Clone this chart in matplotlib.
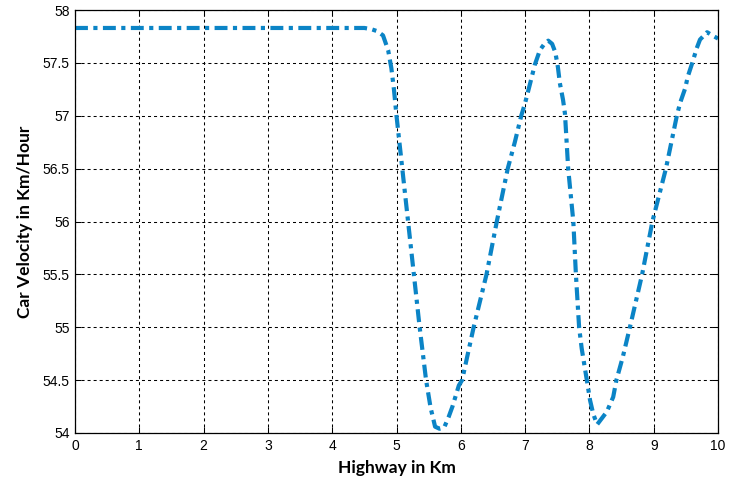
import matplotlib
matplotlib.use("Agg")
import matplotlib.pyplot as plt

# Data
highway_km = [0.0, 4.0, 4.5, 4.6, 4.7, 4.79, 4.87, 4.92, 4.96, 5.0, 5.09, 5.18, 5.27,
              5.36, 5.46, 5.53, 5.6, 5.67, 5.74, 5.81, 5.87, 5.97, 6.02, 6.2, 6.4,
              6.56, 6.73, 6.84, 6.94, 7.0, 7.08, 7.15, 7.23, 7.3, 7.36, 7.42, 7.47,
              7.51, 7.54, 7.59, 7.62, 7.67, 7.75, 7.79, 7.84, 7.88, 7.92, 7.96, 8.01,
              8.06, 8.12, 8.17, 8.27, 8.37, 8.42, 8.52, 8.63, 8.82, 8.98, 9.19, 9.36,
              9.41, 9.49, 9.53, 9.6, 9.67, 9.72, 9.83, 9.94, 10.0]
velocity = [57.83, 57.83, 57.83, 57.82, 57.8, 57.76, 57.62, 57.45, 57.25, 57.0, 56.5, 56.0, 55.5,
            55.0, 54.5, 54.24, 54.06, 54.04, 54.05, 54.15, 54.25, 54.45, 54.5, 55.0, 55.5,
            56.0, 56.5, 56.75, 57.0, 57.12, 57.31, 57.48, 57.62, 57.68, 57.71, 57.68, 57.6,
            57.46, 57.31, 57.15, 57.02, 56.5, 56.0, 55.5, 55.0, 54.8, 54.65, 54.5, 54.31,
            54.18, 54.08, 54.12, 54.2, 54.34, 54.5, 54.72, 55.0, 55.5, 56.0, 56.5, 57.0,
            57.12, 57.26, 57.37, 57.5, 57.64, 57.72, 57.79, 57.75, 57.73]

x_ticks = [0, 1, 2, 3, 4, 5, 6, 7, 8, 9, 10]
y_ticks = [54, 54.5, 55, 55.5, 56, 56.5, 57, 57.5, 58]
y_tick_labels = ["54", "54.5", "55", "55.5", "56", "56.5", "57", "57.5", "58"]

fig = plt.figure(figsize=(7.31, 4.80), dpi=100)
ax = fig.add_axes([75 / 731, 1 - 433 / 480, (718 - 75) / 731, (433 - 10) / 480])

lw = 3.0
line, = ax.plot(highway_km, velocity, color="#0b84c6", linewidth=lw,
                solid_capstyle="butt", dash_capstyle="butt")
# dash ~13px, gap ~5px, dot ~4px, gap ~5px (expressed in line-width units)
line.set_dashes([3.1, 1.3, 1.0, 1.3])

ax.set_xlim(0, 10)
ax.set_ylim(54, 58)
ax.set_xticks(x_ticks)
ax.set_xticklabels([str(t) for t in x_ticks])
ax.set_yticks(y_ticks)
ax.set_yticklabels(y_tick_labels)

ax.grid(True, color="black", linestyle=(0, (2.9, 2.9)), linewidth=0.75)
for s in ax.spines.values():
    s.set_linewidth(0.9)
    s.set_color("black")

ax.tick_params(direction="in", length=4.5, width=0.75, top=True, right=True,
               labelsize=10, pad=4, colors="black")
for lab in ax.get_xticklabels() + ax.get_yticklabels():
    lab.set_family("Liberation Sans")

ax.set_xlabel("Highway in Km", fontsize=12.5, fontweight="bold", family="Lato", labelpad=5)
ax.set_ylabel("Car Velocity in Km/Hour", fontsize=12.5, fontweight="bold", family="Lato", labelpad=7)

fig.savefig("out.png", dpi=100)
